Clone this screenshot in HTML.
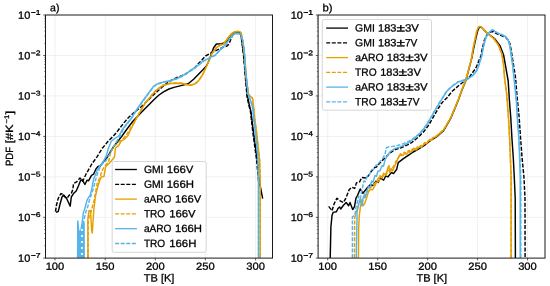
<!DOCTYPE html>
<html><head><meta charset="utf-8"><title>PDF of TB</title>
<style>html,body{margin:0;padding:0;background:#fff;width:550px;height:286px;overflow:hidden;font-family:"Liberation Sans",sans-serif}
text{fill:#000;stroke:#000;stroke-width:0.28px;stroke-linejoin:round}</style>
</head><body>
<svg width="550" height="286" viewBox="0 0 550 286" style="display:block;position:absolute;left:0;top:0;will-change:transform" font-family="Liberation Sans, sans-serif" font-size="10" text-rendering="geometricPrecision">
<rect width="550" height="286" fill="#fff"/>
<line x1="45.5" y1="55.47" x2="272.5" y2="55.47" stroke="#ebebeb" stroke-width="0.7"/>
<line x1="45.5" y1="95.94" x2="272.5" y2="95.94" stroke="#ebebeb" stroke-width="0.7"/>
<line x1="45.5" y1="136.41" x2="272.5" y2="136.41" stroke="#ebebeb" stroke-width="0.7"/>
<line x1="45.5" y1="176.88" x2="272.5" y2="176.88" stroke="#ebebeb" stroke-width="0.7"/>
<line x1="45.5" y1="217.35" x2="272.5" y2="217.35" stroke="#ebebeb" stroke-width="0.7"/>
<line x1="55.00" y1="15.0" x2="55.00" y2="258.1" stroke="#ebebeb" stroke-width="0.7"/>
<line x1="105.20" y1="15.0" x2="105.20" y2="258.1" stroke="#ebebeb" stroke-width="0.7"/>
<line x1="155.30" y1="15.0" x2="155.30" y2="258.1" stroke="#ebebeb" stroke-width="0.7"/>
<line x1="205.40" y1="15.0" x2="205.40" y2="258.1" stroke="#ebebeb" stroke-width="0.7"/>
<line x1="255.60" y1="15.0" x2="255.60" y2="258.1" stroke="#ebebeb" stroke-width="0.7"/>
<line x1="318.1" y1="55.47" x2="545.0" y2="55.47" stroke="#ebebeb" stroke-width="0.7"/>
<line x1="318.1" y1="95.94" x2="545.0" y2="95.94" stroke="#ebebeb" stroke-width="0.7"/>
<line x1="318.1" y1="136.41" x2="545.0" y2="136.41" stroke="#ebebeb" stroke-width="0.7"/>
<line x1="318.1" y1="176.88" x2="545.0" y2="176.88" stroke="#ebebeb" stroke-width="0.7"/>
<line x1="318.1" y1="217.35" x2="545.0" y2="217.35" stroke="#ebebeb" stroke-width="0.7"/>
<line x1="327.70" y1="15.0" x2="327.70" y2="258.1" stroke="#ebebeb" stroke-width="0.7"/>
<line x1="377.70" y1="15.0" x2="377.70" y2="258.1" stroke="#ebebeb" stroke-width="0.7"/>
<line x1="427.70" y1="15.0" x2="427.70" y2="258.1" stroke="#ebebeb" stroke-width="0.7"/>
<line x1="477.60" y1="15.0" x2="477.60" y2="258.1" stroke="#ebebeb" stroke-width="0.7"/>
<line x1="527.50" y1="15.0" x2="527.50" y2="258.1" stroke="#ebebeb" stroke-width="0.7"/>
<defs><clipPath id="cl"><rect x="45.5" y="15.0" width="227.0" height="243.1"/></clipPath><clipPath id="cr"><rect x="318.1" y="15.0" width="226.9" height="243.1"/></clipPath></defs>
<g clip-path="url(#cl)">
<polyline points="56.0,212.2 58.2,211.6 59.8,205.0 62.0,197.0 63.6,195.0 66.4,198.0 70.2,206.2 71.3,197.0 73.5,193.6 76.2,191.0 78.4,186.0 80.5,180.7 82.2,179.6 84.9,184.5 87.0,180.2 88.7,180.7 91.5,175.3 93.6,174.2 95.8,169.3 98.0,166.5 100.3,166.0 103.0,162.3 106.8,158.0 110.0,152.5 113.4,147.0 117.7,141.5 122.0,136.0 127.0,129.0 132.7,121.5 135.0,119.0 142.7,111.0 148.2,105.5 153.6,100.0 159.0,95.0 163.5,91.8 169.0,89.0 174.0,87.4 181.0,85.6 188.2,83.8 193.6,79.3 198.0,74.7 202.7,70.0 206.4,66.0 209.0,60.5 211.0,55.0 213.6,47.7 216.4,44.0 221.8,43.7 225.5,42.3 228.0,39.3 230.0,36.0 232.4,33.5 234.5,32.3 239.0,32.3 241.0,35.0 242.7,46.0 244.0,56.8 245.5,75.0 247.6,96.4 249.0,103.6 251.0,111.8 253.6,133.5 257.3,160.0 259.0,179.6 262.7,198.7" fill="none" stroke="#000" stroke-width="1.45" stroke-linejoin="round"/>
<polyline points="55.5,211.6 56.5,205.0 58.2,198.5 60.9,193.6 62.5,194.2 64.2,196.4 66.9,198.5 69.0,195.3 71.3,193.6 72.9,189.3 73.5,183.5 76.7,181.8 80.0,178.0 82.7,181.3 86.0,174.2 90.4,166.5 91.5,164.5 97.0,156.8 102.5,148.0 107.9,141.5 113.4,136.0 118.0,130.5 123.0,124.0 128.5,117.5 137.3,109.8 141.6,106.5 146.0,102.2 151.5,96.7 157.0,91.8 162.7,86.5 170.0,81.0 177.0,77.5 184.5,74.7 190.0,71.0 195.0,67.5 200.0,62.0 205.5,56.0 211.0,53.0 216.4,50.3 221.8,47.8 226.7,46.1 228.4,44.6 229.7,42.2 231.3,38.2 232.8,34.6 234.3,32.9 235.5,32.4 239.0,32.3 241.0,35.0 242.4,46.0 243.7,56.8 245.2,75.0 247.0,96.4 248.5,103.6 250.5,111.8 253.0,133.5 256.6,160.0 258.4,179.6 259.2,186.0" fill="none" stroke="#000" stroke-width="1.45" stroke-linejoin="round" stroke-dasharray="4.0 1.6"/>
<polyline points="88.0,258.1 88.2,222.0 89.5,214.5 91.0,212.0 92.7,205.5 94.2,200.0 95.8,191.0 97.5,181.8 100.2,177.5 101.8,171.0 104.5,166.5 107.0,163.5 108.5,162.3 110.6,152.5 114.5,146.0 117.2,143.7 119.0,142.0 122.7,139.0 126.0,135.5 129.0,131.0 132.0,125.5 136.2,118.5 140.5,110.5 146.0,101.7 151.5,95.2 155.8,90.3 160.2,87.0 162.7,85.3 170.0,83.2 176.0,83.0 182.7,83.2 187.0,84.5 190.0,85.0 193.5,84.3 196.4,82.7 199.5,79.2 202.7,74.4 206.4,66.5 211.8,53.8 216.4,47.5 220.0,45.2 223.6,43.8 228.2,37.5 231.0,34.1 233.6,32.1 237.0,31.4 240.0,31.6 241.3,33.4 242.9,42.3 244.7,56.8 246.4,78.0 248.4,94.0 250.3,96.5 251.8,97.3 252.7,99.0 253.6,107.3 254.5,117.0 256.7,133.5 259.6,160.0 260.2,181.5 260.2,258.1" fill="none" stroke="#E69F00" stroke-width="1.45" stroke-linejoin="round" stroke-dasharray="4.0 1.6"/>
<polyline points="88.0,258.1 87.8,219.6 88.9,210.9 90.5,210.4 91.6,229.5 92.3,233.0 93.8,209.8 94.9,201.0 95.3,197.0 96.9,190.0 98.0,186.0 99.6,180.7 101.3,177.0 104.0,176.4 104.5,173.0 105.5,167.5 106.3,166.0 111.2,161.2 114.5,156.8 115.5,148.0 118.8,145.4 121.0,141.5 125.4,138.3 128.0,135.5 131.0,129.0 136.2,119.0 140.5,111.0 146.0,102.2 151.5,95.6 155.8,90.7 160.2,87.3 162.7,85.6 170.0,83.5 176.0,83.2 182.7,83.5 187.0,84.8 190.0,85.3 193.5,84.6 196.4,83.0 199.5,79.5 202.7,74.7 206.4,66.8 211.8,54.0 216.4,47.7 220.0,45.4 223.6,44.0 228.2,37.7 231.0,34.3 233.6,32.3 237.0,31.5 240.0,31.7 241.3,33.5 242.9,42.3 244.7,56.8 246.4,78.0 248.4,94.0 250.3,96.5 251.8,97.3 252.7,99.0 253.6,107.3 254.5,117.0 256.7,133.5 259.6,160.0 260.2,181.5 260.2,258.1" fill="none" stroke="#E69F00" stroke-width="1.45" stroke-linejoin="round"/>
<polygon points="77.0,258.1 77.2,221.5 78.2,221.5 79.6,231.0 81.0,229.0 82.3,224.0 83.2,224.0 84.8,222.0 84.9,258.1" fill="#56B4E9"/>
<polyline points="82.3,258.1 82.4,231.0 83.5,221.8 85.6,213.0 87.8,206.5 89.5,200.0 91.5,194.0 93.6,188.0 95.3,180.7 98.0,172.0 100.5,166.5 103.0,163.0 105.7,161.2 110.0,153.5 114.5,144.8 117.0,141.0 120.0,136.5 123.6,128.5 127.0,124.0 130.7,119.5 137.3,109.2 142.7,101.5 148.2,94.0 153.6,86.7 157.0,84.4 161.0,83.0 166.0,81.9 171.8,80.6 178.0,78.4 184.5,75.0 193.6,69.0 203.6,61.1 210.0,57.9 215.3,55.3 220.7,49.6 226.2,44.1 230.0,38.7 232.7,35.3 234.9,34.0 238.2,33.6 240.9,34.7 242.5,39.6 243.6,46.1 244.7,56.3 245.2,67.0 246.4,78.3 248.2,94.8 251.0,102.0 252.7,108.3 255.5,133.8 257.8,156.3 258.5,181.5 258.5,258.1" fill="none" stroke="#56B4E9" stroke-width="1.45" stroke-linejoin="round" stroke-dasharray="4.0 1.6"/>
<polyline points="77.6,258.1 77.8,221.0 79.2,258.1 79.8,232.0 80.6,258.1 81.2,228.0 81.8,225.0 83.5,212.0 84.5,209.8 87.0,200.2 90.4,194.7 92.0,188.0 93.6,179.0 96.9,171.0 99.0,167.0 101.5,164.4 103.5,161.2 106.3,155.7 108.5,148.0 111.2,141.5 113.4,139.4 118.8,136.0 121.5,131.0 123.6,128.0 127.0,123.5 130.7,119.0 137.3,108.7 142.7,101.0 148.2,93.5 153.6,86.2 157.0,84.0 161.0,82.6 166.0,81.5 171.8,80.2 178.0,78.0 184.5,74.6 193.6,68.6 203.6,60.8 210.0,57.6 215.3,55.0 220.7,49.3 226.2,43.8 230.0,38.4 232.7,35.0 234.9,33.7 238.2,33.3 240.9,34.4 242.5,39.3 243.6,45.8 244.7,56.0 245.2,66.8 246.4,78.0 248.2,94.5 251.0,101.8 252.7,108.0 255.5,133.5 257.8,156.0 258.5,181.5 258.5,258.1" fill="none" stroke="#56B4E9" stroke-width="1.45" stroke-linejoin="round"/>
<rect x="81.0" y="229.0" width="2.0" height="1.9" fill="#fff" opacity="0.9"/>
<rect x="81.0" y="235.0" width="2.0" height="1.9" fill="#fff" opacity="0.9"/>
<rect x="81.0" y="241.0" width="2.0" height="1.9" fill="#fff" opacity="0.9"/>
<rect x="81.0" y="247.0" width="2.0" height="1.9" fill="#fff" opacity="0.9"/>
<rect x="81.0" y="253.0" width="2.0" height="1.9" fill="#fff" opacity="0.9"/>
</g>
<g clip-path="url(#cr)">
<polyline points="330.2,258.1 330.9,227.0 332.0,215.6 333.1,212.4 336.4,211.8 338.0,208.5 339.6,206.9 340.7,209.0 343.5,205.3 346.2,202.5 348.6,205.8 350.0,202.5 352.7,209.6 354.4,206.9 356.0,198.2 357.5,195.5 360.2,188.9 362.9,193.3 367.3,187.8 370.5,184.5 372.7,185.6 376.0,181.3 378.2,182.4 380.4,178.0 383.6,180.2 385.8,175.8 388.0,176.9 391.3,172.5 393.5,173.6 396.7,169.3 398.2,162.6 403.4,158.6 409.0,154.8 413.2,152.0 418.8,148.9 424.4,145.5 430.0,141.0 436.4,137.0 443.6,130.6 451.0,117.8 454.5,109.4 458.2,100.4 461.9,90.2 465.6,81.2 469.1,68.4 471.9,57.5 473.2,50.6 476.0,37.6 477.8,30.4 479.2,27.6 480.4,26.9 481.4,27.2 482.8,28.6 487.2,33.4 494.5,38.5 500.0,45.8 503.6,55.0 505.5,65.6 508.2,81.0 509.5,101.6 510.8,118.0 511.9,137.7 513.3,158.0 514.3,177.7 515.2,198.0 515.4,258.1" fill="none" stroke="#000" stroke-width="1.45" stroke-linejoin="round"/>
<polyline points="328.7,206.4 332.0,210.7 334.2,203.6 336.9,198.2 340.2,200.9 343.5,202.5 345.6,198.7 346.7,196.0 349.3,189.5 352.0,187.3 354.7,188.4 356.4,182.9 359.6,181.8 361.8,177.5 366.2,178.0 368.4,175.8 371.6,170.9 374.9,167.5 376.4,167.0 379.6,163.3 385.0,157.8 389.5,153.5 395.0,149.6 400.4,148.0 408.0,144.7 412.0,142.3 416.0,139.0 420.0,135.4 424.3,131.0 428.0,126.0 430.5,122.0 436.0,112.3 441.0,104.0 444.0,100.5 447.0,97.7 451.9,91.6 458.2,86.0 464.5,81.0 470.0,76.2 475.0,69.2 476.4,66.8 479.0,60.5 481.0,55.8 482.2,49.0 484.4,40.0 486.6,35.4 489.0,32.7 491.5,31.6 493.5,31.8 495.0,32.8 497.7,34.2 502.0,35.9 505.6,37.3 508.0,39.9 509.9,43.5 511.2,50.4 513.6,65.6 515.5,77.3 517.0,96.0 519.2,118.0 520.4,136.0 522.1,158.0 524.0,177.7 525.0,198.0 525.1,258.1" fill="none" stroke="#000" stroke-width="1.45" stroke-linejoin="round" stroke-dasharray="4.0 1.6"/>
<polyline points="354.4,258.1 354.7,217.8 357.0,209.0 359.0,204.0 361.0,199.0 362.5,202.0 364.0,198.0 366.5,192.5 369.0,189.0 372.7,185.5 376.0,182.0 378.5,178.0 382.0,176.5 385.5,175.0 387.5,170.0 390.0,171.0 392.5,168.0 394.5,165.0 396.0,161.0 397.5,160.5 398.5,157.0 400.0,154.0 401.0,155.6 402.5,153.6 404.5,152.2 405.5,153.6 407.0,151.8 409.0,150.4 410.0,151.8 412.0,149.6 414.0,148.2 415.0,149.4 417.0,147.4 419.5,145.6 420.5,146.8 422.5,144.6 425.0,142.6 426.0,143.6 427.9,141.2 430.0,139.2 431.0,140.2 432.8,137.8 436.4,136.0 443.6,129.6 451.0,117.0 454.5,108.7 458.2,99.7 461.8,89.7 465.5,80.7 469.0,68.0 471.8,57.0 472.7,50.2 475.4,37.4 477.0,30.0 478.5,27.0 479.6,26.4 480.6,26.4 482.3,27.8 486.8,32.8 493.6,38.3 498.2,44.7 501.8,53.8 503.6,65.4 504.5,77.1 506.4,91.6 507.3,101.4 508.5,118.0 509.6,137.7 510.4,158.0 511.1,177.7 511.1,258.1" fill="none" stroke="#E69F00" stroke-width="1.45" stroke-linejoin="round" stroke-dasharray="4.0 1.6"/>
<polyline points="358.4,258.1 358.7,227.0 359.3,215.6 360.4,206.9 362.0,199.3 363.0,205.8 364.7,203.6 366.7,197.8 368.4,192.0 370.2,189.4 372.5,189.8 374.4,186.6 376.5,182.4 379.3,181.0 380.0,175.4 382.0,178.2 383.5,173.3 386.3,175.4 387.7,168.4 389.0,165.6 389.8,172.6 391.2,168.4 392.6,171.0 394.5,166.5 396.0,163.3 397.6,158.9 399.5,156.0 400.6,153.8 402.0,155.6 403.4,155.0 405.0,152.8 406.3,154.2 407.6,152.9 409.5,151.0 410.5,152.5 413.2,150.0 415.0,148.6 416.0,150.0 418.0,148.0 420.5,146.0 421.5,147.3 423.0,145.2 425.5,143.0 426.5,144.0 427.9,141.7 430.5,139.6 431.3,140.6 432.8,138.2 436.4,136.4 443.6,130.0 451.0,117.3 454.5,109.0 458.2,100.0 461.8,90.0 465.5,81.0 469.0,68.2 471.8,57.3 472.7,50.4 475.4,37.6 477.0,30.2 478.5,27.2 479.6,26.6 480.6,26.6 482.3,28.0 486.8,33.0 493.6,38.5 498.2,44.9 501.8,54.0 503.6,65.6 504.5,77.3 506.4,91.8 507.3,101.6 508.5,118.0 509.6,137.7 510.4,158.0 511.1,177.7 511.1,258.1" fill="none" stroke="#E69F00" stroke-width="1.45" stroke-linejoin="round"/>
<polyline points="356.2,258.1 357.0,220.0 357.0,212.4 358.2,206.9 359.8,199.3 362.0,205.8 363.0,198.2 364.5,194.0 365.5,197.5 366.7,192.2 368.0,188.0 368.8,186.6 370.0,187.8 371.6,181.0 373.0,182.3 375.0,175.4 376.5,176.3 377.9,171.2 380.0,170.8 382.0,165.6 383.5,166.3 385.0,160.0 387.3,155.6 390.5,151.3 395.0,148.5 400.4,146.9 405.8,144.2 410.4,141.5 414.6,138.0 418.8,134.4 423.0,130.0 426.5,125.0 429.0,121.0 434.6,111.2 439.5,102.8 442.8,97.7 447.0,91.0 452.6,86.0 458.2,82.0 463.8,80.4 468.0,79.0 472.9,75.5 476.4,71.3 478.2,67.3 479.5,63.0 481.8,55.8 483.0,49.0 485.2,39.8 487.4,34.8 490.0,31.6 491.6,30.5 492.8,30.1 494.0,30.6 495.2,31.7 497.7,33.2 502.0,34.9 505.4,36.5 507.5,39.1 509.2,43.1 510.3,49.0 511.8,59.5 512.7,65.6 514.5,82.7 516.4,101.6 517.3,118.0 518.8,137.7 519.6,158.0 520.2,177.7 520.2,258.1" fill="none" stroke="#56B4E9" stroke-width="1.45" stroke-linejoin="round"/>
<polyline points="352.4,258.1 352.4,216.7 354.9,215.6 356.0,206.9 357.6,201.5 358.7,196.0 360.4,199.0 361.5,192.0 362.5,188.0 363.9,181.0 365.5,181.5 367.4,175.4 369.5,174.8 371.6,169.8 373.5,169.3 375.8,165.6 378.0,164.5 380.0,161.4 381.8,160.0 385.0,154.5 386.2,148.0 388.4,146.9 392.7,146.4 398.2,145.3 403.6,143.6 409.0,141.2 414.5,137.6 418.8,134.0 423.0,129.6 426.5,124.6 429.0,120.6 434.6,110.8 439.5,102.4 442.8,97.3 447.0,90.6 452.6,85.6 458.2,81.6 463.8,80.0 468.0,78.6 472.9,75.1 476.4,70.9 478.2,66.9 479.5,62.6 481.8,55.4 483.0,48.6 485.2,39.4 487.4,34.5 490.0,31.3 491.6,30.2 492.8,29.9 494.0,30.4 495.2,31.5 497.7,33.0 502.0,34.7 505.4,36.3 507.5,38.9 509.2,42.9 510.3,48.8 511.8,59.3 512.7,65.4 514.7,82.7 516.6,101.6 517.6,118.0 519.1,137.7 520.0,158.0 520.8,177.7 520.8,258.1" fill="none" stroke="#56B4E9" stroke-width="1.45" stroke-linejoin="round" stroke-dasharray="4.0 1.6"/>
</g>
<rect x="45.5" y="15.0" width="227.0" height="243.1" fill="none" stroke="#1a1a1a" stroke-width="1.0"/>
<line x1="55.00" y1="258.1" x2="55.00" y2="260.4" stroke="#1a1a1a" stroke-width="0.7"/>
<line x1="105.20" y1="258.1" x2="105.20" y2="260.4" stroke="#1a1a1a" stroke-width="0.7"/>
<line x1="155.30" y1="258.1" x2="155.30" y2="260.4" stroke="#1a1a1a" stroke-width="0.7"/>
<line x1="205.40" y1="258.1" x2="205.40" y2="260.4" stroke="#1a1a1a" stroke-width="0.7"/>
<line x1="255.60" y1="258.1" x2="255.60" y2="260.4" stroke="#1a1a1a" stroke-width="0.7"/>
<line x1="43.2" y1="15.00" x2="45.5" y2="15.00" stroke="#1a1a1a" stroke-width="0.7"/>
<line x1="44.2" y1="43.29" x2="45.5" y2="43.29" stroke="#1a1a1a" stroke-width="0.5"/>
<line x1="44.2" y1="36.16" x2="45.5" y2="36.16" stroke="#1a1a1a" stroke-width="0.5"/>
<line x1="44.2" y1="31.10" x2="45.5" y2="31.10" stroke="#1a1a1a" stroke-width="0.5"/>
<line x1="44.2" y1="27.18" x2="45.5" y2="27.18" stroke="#1a1a1a" stroke-width="0.5"/>
<line x1="44.2" y1="23.98" x2="45.5" y2="23.98" stroke="#1a1a1a" stroke-width="0.5"/>
<line x1="44.2" y1="21.27" x2="45.5" y2="21.27" stroke="#1a1a1a" stroke-width="0.5"/>
<line x1="44.2" y1="18.92" x2="45.5" y2="18.92" stroke="#1a1a1a" stroke-width="0.5"/>
<line x1="44.2" y1="16.85" x2="45.5" y2="16.85" stroke="#1a1a1a" stroke-width="0.5"/>
<line x1="43.2" y1="55.47" x2="45.5" y2="55.47" stroke="#1a1a1a" stroke-width="0.7"/>
<line x1="44.2" y1="83.76" x2="45.5" y2="83.76" stroke="#1a1a1a" stroke-width="0.5"/>
<line x1="44.2" y1="76.63" x2="45.5" y2="76.63" stroke="#1a1a1a" stroke-width="0.5"/>
<line x1="44.2" y1="71.57" x2="45.5" y2="71.57" stroke="#1a1a1a" stroke-width="0.5"/>
<line x1="44.2" y1="67.65" x2="45.5" y2="67.65" stroke="#1a1a1a" stroke-width="0.5"/>
<line x1="44.2" y1="64.45" x2="45.5" y2="64.45" stroke="#1a1a1a" stroke-width="0.5"/>
<line x1="44.2" y1="61.74" x2="45.5" y2="61.74" stroke="#1a1a1a" stroke-width="0.5"/>
<line x1="44.2" y1="59.39" x2="45.5" y2="59.39" stroke="#1a1a1a" stroke-width="0.5"/>
<line x1="44.2" y1="57.32" x2="45.5" y2="57.32" stroke="#1a1a1a" stroke-width="0.5"/>
<line x1="43.2" y1="95.94" x2="45.5" y2="95.94" stroke="#1a1a1a" stroke-width="0.7"/>
<line x1="44.2" y1="124.23" x2="45.5" y2="124.23" stroke="#1a1a1a" stroke-width="0.5"/>
<line x1="44.2" y1="117.10" x2="45.5" y2="117.10" stroke="#1a1a1a" stroke-width="0.5"/>
<line x1="44.2" y1="112.04" x2="45.5" y2="112.04" stroke="#1a1a1a" stroke-width="0.5"/>
<line x1="44.2" y1="108.12" x2="45.5" y2="108.12" stroke="#1a1a1a" stroke-width="0.5"/>
<line x1="44.2" y1="104.92" x2="45.5" y2="104.92" stroke="#1a1a1a" stroke-width="0.5"/>
<line x1="44.2" y1="102.21" x2="45.5" y2="102.21" stroke="#1a1a1a" stroke-width="0.5"/>
<line x1="44.2" y1="99.86" x2="45.5" y2="99.86" stroke="#1a1a1a" stroke-width="0.5"/>
<line x1="44.2" y1="97.79" x2="45.5" y2="97.79" stroke="#1a1a1a" stroke-width="0.5"/>
<line x1="43.2" y1="136.41" x2="45.5" y2="136.41" stroke="#1a1a1a" stroke-width="0.7"/>
<line x1="44.2" y1="164.70" x2="45.5" y2="164.70" stroke="#1a1a1a" stroke-width="0.5"/>
<line x1="44.2" y1="157.57" x2="45.5" y2="157.57" stroke="#1a1a1a" stroke-width="0.5"/>
<line x1="44.2" y1="152.51" x2="45.5" y2="152.51" stroke="#1a1a1a" stroke-width="0.5"/>
<line x1="44.2" y1="148.59" x2="45.5" y2="148.59" stroke="#1a1a1a" stroke-width="0.5"/>
<line x1="44.2" y1="145.39" x2="45.5" y2="145.39" stroke="#1a1a1a" stroke-width="0.5"/>
<line x1="44.2" y1="142.68" x2="45.5" y2="142.68" stroke="#1a1a1a" stroke-width="0.5"/>
<line x1="44.2" y1="140.33" x2="45.5" y2="140.33" stroke="#1a1a1a" stroke-width="0.5"/>
<line x1="44.2" y1="138.26" x2="45.5" y2="138.26" stroke="#1a1a1a" stroke-width="0.5"/>
<line x1="43.2" y1="176.88" x2="45.5" y2="176.88" stroke="#1a1a1a" stroke-width="0.7"/>
<line x1="44.2" y1="205.17" x2="45.5" y2="205.17" stroke="#1a1a1a" stroke-width="0.5"/>
<line x1="44.2" y1="198.04" x2="45.5" y2="198.04" stroke="#1a1a1a" stroke-width="0.5"/>
<line x1="44.2" y1="192.98" x2="45.5" y2="192.98" stroke="#1a1a1a" stroke-width="0.5"/>
<line x1="44.2" y1="189.06" x2="45.5" y2="189.06" stroke="#1a1a1a" stroke-width="0.5"/>
<line x1="44.2" y1="185.86" x2="45.5" y2="185.86" stroke="#1a1a1a" stroke-width="0.5"/>
<line x1="44.2" y1="183.15" x2="45.5" y2="183.15" stroke="#1a1a1a" stroke-width="0.5"/>
<line x1="44.2" y1="180.80" x2="45.5" y2="180.80" stroke="#1a1a1a" stroke-width="0.5"/>
<line x1="44.2" y1="178.73" x2="45.5" y2="178.73" stroke="#1a1a1a" stroke-width="0.5"/>
<line x1="43.2" y1="217.35" x2="45.5" y2="217.35" stroke="#1a1a1a" stroke-width="0.7"/>
<line x1="44.2" y1="245.64" x2="45.5" y2="245.64" stroke="#1a1a1a" stroke-width="0.5"/>
<line x1="44.2" y1="238.51" x2="45.5" y2="238.51" stroke="#1a1a1a" stroke-width="0.5"/>
<line x1="44.2" y1="233.45" x2="45.5" y2="233.45" stroke="#1a1a1a" stroke-width="0.5"/>
<line x1="44.2" y1="229.53" x2="45.5" y2="229.53" stroke="#1a1a1a" stroke-width="0.5"/>
<line x1="44.2" y1="226.33" x2="45.5" y2="226.33" stroke="#1a1a1a" stroke-width="0.5"/>
<line x1="44.2" y1="223.62" x2="45.5" y2="223.62" stroke="#1a1a1a" stroke-width="0.5"/>
<line x1="44.2" y1="221.27" x2="45.5" y2="221.27" stroke="#1a1a1a" stroke-width="0.5"/>
<line x1="44.2" y1="219.20" x2="45.5" y2="219.20" stroke="#1a1a1a" stroke-width="0.5"/>
<line x1="43.2" y1="258.10" x2="45.5" y2="258.10" stroke="#1a1a1a" stroke-width="0.7"/>
<rect x="318.1" y="15.0" width="226.9" height="243.1" fill="none" stroke="#1a1a1a" stroke-width="1.0"/>
<line x1="327.70" y1="258.1" x2="327.70" y2="260.4" stroke="#1a1a1a" stroke-width="0.7"/>
<line x1="377.70" y1="258.1" x2="377.70" y2="260.4" stroke="#1a1a1a" stroke-width="0.7"/>
<line x1="427.70" y1="258.1" x2="427.70" y2="260.4" stroke="#1a1a1a" stroke-width="0.7"/>
<line x1="477.60" y1="258.1" x2="477.60" y2="260.4" stroke="#1a1a1a" stroke-width="0.7"/>
<line x1="527.50" y1="258.1" x2="527.50" y2="260.4" stroke="#1a1a1a" stroke-width="0.7"/>
<line x1="315.8" y1="15.00" x2="318.1" y2="15.00" stroke="#1a1a1a" stroke-width="0.7"/>
<line x1="316.8" y1="43.29" x2="318.1" y2="43.29" stroke="#1a1a1a" stroke-width="0.5"/>
<line x1="316.8" y1="36.16" x2="318.1" y2="36.16" stroke="#1a1a1a" stroke-width="0.5"/>
<line x1="316.8" y1="31.10" x2="318.1" y2="31.10" stroke="#1a1a1a" stroke-width="0.5"/>
<line x1="316.8" y1="27.18" x2="318.1" y2="27.18" stroke="#1a1a1a" stroke-width="0.5"/>
<line x1="316.8" y1="23.98" x2="318.1" y2="23.98" stroke="#1a1a1a" stroke-width="0.5"/>
<line x1="316.8" y1="21.27" x2="318.1" y2="21.27" stroke="#1a1a1a" stroke-width="0.5"/>
<line x1="316.8" y1="18.92" x2="318.1" y2="18.92" stroke="#1a1a1a" stroke-width="0.5"/>
<line x1="316.8" y1="16.85" x2="318.1" y2="16.85" stroke="#1a1a1a" stroke-width="0.5"/>
<line x1="315.8" y1="55.47" x2="318.1" y2="55.47" stroke="#1a1a1a" stroke-width="0.7"/>
<line x1="316.8" y1="83.76" x2="318.1" y2="83.76" stroke="#1a1a1a" stroke-width="0.5"/>
<line x1="316.8" y1="76.63" x2="318.1" y2="76.63" stroke="#1a1a1a" stroke-width="0.5"/>
<line x1="316.8" y1="71.57" x2="318.1" y2="71.57" stroke="#1a1a1a" stroke-width="0.5"/>
<line x1="316.8" y1="67.65" x2="318.1" y2="67.65" stroke="#1a1a1a" stroke-width="0.5"/>
<line x1="316.8" y1="64.45" x2="318.1" y2="64.45" stroke="#1a1a1a" stroke-width="0.5"/>
<line x1="316.8" y1="61.74" x2="318.1" y2="61.74" stroke="#1a1a1a" stroke-width="0.5"/>
<line x1="316.8" y1="59.39" x2="318.1" y2="59.39" stroke="#1a1a1a" stroke-width="0.5"/>
<line x1="316.8" y1="57.32" x2="318.1" y2="57.32" stroke="#1a1a1a" stroke-width="0.5"/>
<line x1="315.8" y1="95.94" x2="318.1" y2="95.94" stroke="#1a1a1a" stroke-width="0.7"/>
<line x1="316.8" y1="124.23" x2="318.1" y2="124.23" stroke="#1a1a1a" stroke-width="0.5"/>
<line x1="316.8" y1="117.10" x2="318.1" y2="117.10" stroke="#1a1a1a" stroke-width="0.5"/>
<line x1="316.8" y1="112.04" x2="318.1" y2="112.04" stroke="#1a1a1a" stroke-width="0.5"/>
<line x1="316.8" y1="108.12" x2="318.1" y2="108.12" stroke="#1a1a1a" stroke-width="0.5"/>
<line x1="316.8" y1="104.92" x2="318.1" y2="104.92" stroke="#1a1a1a" stroke-width="0.5"/>
<line x1="316.8" y1="102.21" x2="318.1" y2="102.21" stroke="#1a1a1a" stroke-width="0.5"/>
<line x1="316.8" y1="99.86" x2="318.1" y2="99.86" stroke="#1a1a1a" stroke-width="0.5"/>
<line x1="316.8" y1="97.79" x2="318.1" y2="97.79" stroke="#1a1a1a" stroke-width="0.5"/>
<line x1="315.8" y1="136.41" x2="318.1" y2="136.41" stroke="#1a1a1a" stroke-width="0.7"/>
<line x1="316.8" y1="164.70" x2="318.1" y2="164.70" stroke="#1a1a1a" stroke-width="0.5"/>
<line x1="316.8" y1="157.57" x2="318.1" y2="157.57" stroke="#1a1a1a" stroke-width="0.5"/>
<line x1="316.8" y1="152.51" x2="318.1" y2="152.51" stroke="#1a1a1a" stroke-width="0.5"/>
<line x1="316.8" y1="148.59" x2="318.1" y2="148.59" stroke="#1a1a1a" stroke-width="0.5"/>
<line x1="316.8" y1="145.39" x2="318.1" y2="145.39" stroke="#1a1a1a" stroke-width="0.5"/>
<line x1="316.8" y1="142.68" x2="318.1" y2="142.68" stroke="#1a1a1a" stroke-width="0.5"/>
<line x1="316.8" y1="140.33" x2="318.1" y2="140.33" stroke="#1a1a1a" stroke-width="0.5"/>
<line x1="316.8" y1="138.26" x2="318.1" y2="138.26" stroke="#1a1a1a" stroke-width="0.5"/>
<line x1="315.8" y1="176.88" x2="318.1" y2="176.88" stroke="#1a1a1a" stroke-width="0.7"/>
<line x1="316.8" y1="205.17" x2="318.1" y2="205.17" stroke="#1a1a1a" stroke-width="0.5"/>
<line x1="316.8" y1="198.04" x2="318.1" y2="198.04" stroke="#1a1a1a" stroke-width="0.5"/>
<line x1="316.8" y1="192.98" x2="318.1" y2="192.98" stroke="#1a1a1a" stroke-width="0.5"/>
<line x1="316.8" y1="189.06" x2="318.1" y2="189.06" stroke="#1a1a1a" stroke-width="0.5"/>
<line x1="316.8" y1="185.86" x2="318.1" y2="185.86" stroke="#1a1a1a" stroke-width="0.5"/>
<line x1="316.8" y1="183.15" x2="318.1" y2="183.15" stroke="#1a1a1a" stroke-width="0.5"/>
<line x1="316.8" y1="180.80" x2="318.1" y2="180.80" stroke="#1a1a1a" stroke-width="0.5"/>
<line x1="316.8" y1="178.73" x2="318.1" y2="178.73" stroke="#1a1a1a" stroke-width="0.5"/>
<line x1="315.8" y1="217.35" x2="318.1" y2="217.35" stroke="#1a1a1a" stroke-width="0.7"/>
<line x1="316.8" y1="245.64" x2="318.1" y2="245.64" stroke="#1a1a1a" stroke-width="0.5"/>
<line x1="316.8" y1="238.51" x2="318.1" y2="238.51" stroke="#1a1a1a" stroke-width="0.5"/>
<line x1="316.8" y1="233.45" x2="318.1" y2="233.45" stroke="#1a1a1a" stroke-width="0.5"/>
<line x1="316.8" y1="229.53" x2="318.1" y2="229.53" stroke="#1a1a1a" stroke-width="0.5"/>
<line x1="316.8" y1="226.33" x2="318.1" y2="226.33" stroke="#1a1a1a" stroke-width="0.5"/>
<line x1="316.8" y1="223.62" x2="318.1" y2="223.62" stroke="#1a1a1a" stroke-width="0.5"/>
<line x1="316.8" y1="221.27" x2="318.1" y2="221.27" stroke="#1a1a1a" stroke-width="0.5"/>
<line x1="316.8" y1="219.20" x2="318.1" y2="219.20" stroke="#1a1a1a" stroke-width="0.5"/>
<line x1="315.8" y1="258.10" x2="318.1" y2="258.10" stroke="#1a1a1a" stroke-width="0.7"/>
<text transform="rotate(0.03 18.1 18.7)" x="18.1" y="18.7" textLength="12.2" lengthAdjust="spacingAndGlyphs" font-size="10.5">10</text><text transform="rotate(0.03 30.7 14.7)" x="30.7" y="14.7" textLength="9.8" lengthAdjust="spacingAndGlyphs" font-size="6.8">−1</text>
<text transform="rotate(0.03 18.1 59.2)" x="18.1" y="59.2" textLength="12.2" lengthAdjust="spacingAndGlyphs" font-size="10.5">10</text><text transform="rotate(0.03 30.7 55.2)" x="30.7" y="55.2" textLength="9.8" lengthAdjust="spacingAndGlyphs" font-size="6.8">−2</text>
<text transform="rotate(0.03 18.1 99.6)" x="18.1" y="99.6" textLength="12.2" lengthAdjust="spacingAndGlyphs" font-size="10.5">10</text><text transform="rotate(0.03 30.7 95.6)" x="30.7" y="95.6" textLength="9.8" lengthAdjust="spacingAndGlyphs" font-size="6.8">−3</text>
<text transform="rotate(0.03 18.1 140.1)" x="18.1" y="140.1" textLength="12.2" lengthAdjust="spacingAndGlyphs" font-size="10.5">10</text><text transform="rotate(0.03 30.7 136.1)" x="30.7" y="136.1" textLength="9.8" lengthAdjust="spacingAndGlyphs" font-size="6.8">−4</text>
<text transform="rotate(0.03 18.1 180.6)" x="18.1" y="180.6" textLength="12.2" lengthAdjust="spacingAndGlyphs" font-size="10.5">10</text><text transform="rotate(0.03 30.7 176.6)" x="30.7" y="176.6" textLength="9.8" lengthAdjust="spacingAndGlyphs" font-size="6.8">−5</text>
<text transform="rotate(0.03 18.1 221.0)" x="18.1" y="221.0" textLength="12.2" lengthAdjust="spacingAndGlyphs" font-size="10.5">10</text><text transform="rotate(0.03 30.7 217.0)" x="30.7" y="217.0" textLength="9.8" lengthAdjust="spacingAndGlyphs" font-size="6.8">−6</text>
<text transform="rotate(0.03 18.1 261.8)" x="18.1" y="261.8" textLength="12.2" lengthAdjust="spacingAndGlyphs" font-size="10.5">10</text><text transform="rotate(0.03 30.7 257.8)" x="30.7" y="257.8" textLength="9.8" lengthAdjust="spacingAndGlyphs" font-size="6.8">−7</text>
<text transform="rotate(0.03 290.7 18.7)" x="290.7" y="18.7" textLength="12.2" lengthAdjust="spacingAndGlyphs" font-size="10.5">10</text><text transform="rotate(0.03 303.3 14.7)" x="303.3" y="14.7" textLength="9.8" lengthAdjust="spacingAndGlyphs" font-size="6.8">−1</text>
<text transform="rotate(0.03 290.7 59.2)" x="290.7" y="59.2" textLength="12.2" lengthAdjust="spacingAndGlyphs" font-size="10.5">10</text><text transform="rotate(0.03 303.3 55.2)" x="303.3" y="55.2" textLength="9.8" lengthAdjust="spacingAndGlyphs" font-size="6.8">−2</text>
<text transform="rotate(0.03 290.7 99.6)" x="290.7" y="99.6" textLength="12.2" lengthAdjust="spacingAndGlyphs" font-size="10.5">10</text><text transform="rotate(0.03 303.3 95.6)" x="303.3" y="95.6" textLength="9.8" lengthAdjust="spacingAndGlyphs" font-size="6.8">−3</text>
<text transform="rotate(0.03 290.7 140.1)" x="290.7" y="140.1" textLength="12.2" lengthAdjust="spacingAndGlyphs" font-size="10.5">10</text><text transform="rotate(0.03 303.3 136.1)" x="303.3" y="136.1" textLength="9.8" lengthAdjust="spacingAndGlyphs" font-size="6.8">−4</text>
<text transform="rotate(0.03 290.7 180.6)" x="290.7" y="180.6" textLength="12.2" lengthAdjust="spacingAndGlyphs" font-size="10.5">10</text><text transform="rotate(0.03 303.3 176.6)" x="303.3" y="176.6" textLength="9.8" lengthAdjust="spacingAndGlyphs" font-size="6.8">−5</text>
<text transform="rotate(0.03 290.7 221.0)" x="290.7" y="221.0" textLength="12.2" lengthAdjust="spacingAndGlyphs" font-size="10.5">10</text><text transform="rotate(0.03 303.3 217.0)" x="303.3" y="217.0" textLength="9.8" lengthAdjust="spacingAndGlyphs" font-size="6.8">−6</text>
<text transform="rotate(0.03 290.7 261.8)" x="290.7" y="261.8" textLength="12.2" lengthAdjust="spacingAndGlyphs" font-size="10.5">10</text><text transform="rotate(0.03 303.3 257.8)" x="303.3" y="257.8" textLength="9.8" lengthAdjust="spacingAndGlyphs" font-size="6.8">−7</text>
<text transform="rotate(0.03 55.0 269.7)" x="55.0" y="269.7" text-anchor="middle" textLength="18.7" lengthAdjust="spacingAndGlyphs" font-size="10.3">100</text>
<text transform="rotate(0.03 105.2 269.7)" x="105.2" y="269.7" text-anchor="middle" textLength="18.7" lengthAdjust="spacingAndGlyphs" font-size="10.3">150</text>
<text transform="rotate(0.03 155.3 269.7)" x="155.3" y="269.7" text-anchor="middle" textLength="18.7" lengthAdjust="spacingAndGlyphs" font-size="10.3">200</text>
<text transform="rotate(0.03 205.4 269.7)" x="205.4" y="269.7" text-anchor="middle" textLength="18.7" lengthAdjust="spacingAndGlyphs" font-size="10.3">250</text>
<text transform="rotate(0.03 255.6 269.7)" x="255.6" y="269.7" text-anchor="middle" textLength="18.7" lengthAdjust="spacingAndGlyphs" font-size="10.3">300</text>
<text transform="rotate(0.03 327.7 269.7)" x="327.7" y="269.7" text-anchor="middle" textLength="18.7" lengthAdjust="spacingAndGlyphs" font-size="10.3">100</text>
<text transform="rotate(0.03 377.7 269.7)" x="377.7" y="269.7" text-anchor="middle" textLength="18.7" lengthAdjust="spacingAndGlyphs" font-size="10.3">150</text>
<text transform="rotate(0.03 427.7 269.7)" x="427.7" y="269.7" text-anchor="middle" textLength="18.7" lengthAdjust="spacingAndGlyphs" font-size="10.3">200</text>
<text transform="rotate(0.03 477.6 269.7)" x="477.6" y="269.7" text-anchor="middle" textLength="18.7" lengthAdjust="spacingAndGlyphs" font-size="10.3">250</text>
<text transform="rotate(0.03 527.5 269.7)" x="527.5" y="269.7" text-anchor="middle" textLength="18.7" lengthAdjust="spacingAndGlyphs" font-size="10.3">300</text>
<text transform="rotate(0.03 159.1 281.6)" x="159.1" y="281.6" text-anchor="middle" textLength="30.6" lengthAdjust="spacingAndGlyphs" font-size="10.5">TB [K]</text>
<text transform="rotate(0.03 431.8 281.6)" x="431.8" y="281.6" text-anchor="middle" textLength="30.6" lengthAdjust="spacingAndGlyphs" font-size="10.5">TB [K]</text>
<g transform="translate(13.0,166.3) rotate(-90)"><text x="0.2" y="0" textLength="19.2" lengthAdjust="spacingAndGlyphs" font-size="10.5">PDF</text><text x="22.7" y="0" textLength="19.2" lengthAdjust="spacingAndGlyphs" font-size="10.5">[#K</text><text x="42.9" y="-3.9" textLength="8.8" lengthAdjust="spacingAndGlyphs" font-size="6.8">−1</text><text x="51.9" y="0" textLength="3.7" lengthAdjust="spacingAndGlyphs" font-size="10.5">]</text></g>
<text transform="rotate(0.03 50.1 11.2)" x="50.1" y="11.2" textLength="9.4" lengthAdjust="spacingAndGlyphs" font-size="10.5">a)</text>
<text transform="rotate(0.03 322.6 11.2)" x="322.6" y="11.2" textLength="10.0" lengthAdjust="spacingAndGlyphs" font-size="10.5">b)</text>
<rect x="112.2" y="161.5" width="94.0" height="90.8" rx="2" ry="2" fill="#fff" fill-opacity="0.88" stroke="#ccc" stroke-width="0.8"/>
<line x1="115.1" y1="169.5" x2="136.9" y2="169.5" stroke="#000" stroke-width="1.3"/>
<text transform="rotate(0.03 143.9 172.9)" x="143.9" y="172.9" textLength="19.6" lengthAdjust="spacingAndGlyphs" font-size="10.5">GMI</text>
<text transform="rotate(0.03 166.8 172.9)" x="166.8" y="172.9" textLength="26.6" lengthAdjust="spacingAndGlyphs" font-size="10.5">166V</text>
<line x1="115.1" y1="184.3" x2="136.9" y2="184.3" stroke="#000" stroke-width="1.3" stroke-dasharray="4.0 1.6"/>
<text transform="rotate(0.03 143.9 187.7)" x="143.9" y="187.7" textLength="19.6" lengthAdjust="spacingAndGlyphs" font-size="10.5">GMI</text>
<text transform="rotate(0.03 166.8 187.7)" x="166.8" y="187.7" textLength="27.2" lengthAdjust="spacingAndGlyphs" font-size="10.5">166H</text>
<line x1="115.1" y1="199.1" x2="136.9" y2="199.1" stroke="#E69F00" stroke-width="1.3"/>
<text transform="rotate(0.03 143.9 202.5)" x="143.9" y="202.5" textLength="27.6" lengthAdjust="spacingAndGlyphs" font-size="10.5">aARO</text>
<text transform="rotate(0.03 174.9 202.5)" x="174.9" y="202.5" textLength="26.3" lengthAdjust="spacingAndGlyphs" font-size="10.5">166V</text>
<line x1="115.1" y1="213.9" x2="136.9" y2="213.9" stroke="#E69F00" stroke-width="1.3" stroke-dasharray="4.0 1.6"/>
<text transform="rotate(0.03 143.9 217.3)" x="143.9" y="217.3" textLength="21.3" lengthAdjust="spacingAndGlyphs" font-size="10.5">TRO</text>
<text transform="rotate(0.03 169.2 217.3)" x="169.2" y="217.3" textLength="26.5" lengthAdjust="spacingAndGlyphs" font-size="10.5">166V</text>
<line x1="115.1" y1="228.7" x2="136.9" y2="228.7" stroke="#56B4E9" stroke-width="1.3"/>
<text transform="rotate(0.03 143.9 232.1)" x="143.9" y="232.1" textLength="27.6" lengthAdjust="spacingAndGlyphs" font-size="10.5">aARO</text>
<text transform="rotate(0.03 174.9 232.1)" x="174.9" y="232.1" textLength="27.1" lengthAdjust="spacingAndGlyphs" font-size="10.5">166H</text>
<line x1="115.1" y1="243.5" x2="136.9" y2="243.5" stroke="#56B4E9" stroke-width="1.3" stroke-dasharray="4.0 1.6"/>
<text transform="rotate(0.03 143.9 246.9)" x="143.9" y="246.9" textLength="21.3" lengthAdjust="spacingAndGlyphs" font-size="10.5">TRO</text>
<text transform="rotate(0.03 169.2 246.9)" x="169.2" y="246.9" textLength="27.2" lengthAdjust="spacingAndGlyphs" font-size="10.5">166H</text>
<rect x="322.3" y="19.5" width="109.2" height="90.7" rx="2" ry="2" fill="#fff" fill-opacity="0.88" stroke="#ccc" stroke-width="0.8"/>
<line x1="326.2" y1="28.1" x2="348.0" y2="28.1" stroke="#000" stroke-width="1.3"/>
<text transform="rotate(0.03 355.1 31.5)" x="355.1" y="31.5" textLength="19.7" lengthAdjust="spacingAndGlyphs" font-size="10.5">GMI</text>
<text transform="rotate(0.03 378.0 31.5)" x="378.0" y="31.5" textLength="18.4" lengthAdjust="spacingAndGlyphs" font-size="10.5">183</text>
<text transform="rotate(0.03 396.4 31.5)" x="396.4" y="31.5" textLength="8.5" lengthAdjust="spacingAndGlyphs" font-size="10.5">±</text>
<text transform="rotate(0.03 404.9 31.5)" x="404.9" y="31.5" textLength="14.0" lengthAdjust="spacingAndGlyphs" font-size="10.5">3V</text>
<line x1="326.2" y1="42.9" x2="348.0" y2="42.9" stroke="#000" stroke-width="1.3" stroke-dasharray="4.0 1.6"/>
<text transform="rotate(0.03 355.1 46.3)" x="355.1" y="46.3" textLength="19.7" lengthAdjust="spacingAndGlyphs" font-size="10.5">GMI</text>
<text transform="rotate(0.03 378.0 46.3)" x="378.0" y="46.3" textLength="18.4" lengthAdjust="spacingAndGlyphs" font-size="10.5">183</text>
<text transform="rotate(0.03 396.4 46.3)" x="396.4" y="46.3" textLength="8.5" lengthAdjust="spacingAndGlyphs" font-size="10.5">±</text>
<text transform="rotate(0.03 404.9 46.3)" x="404.9" y="46.3" textLength="12.5" lengthAdjust="spacingAndGlyphs" font-size="10.5">7V</text>
<line x1="326.2" y1="57.6" x2="348.0" y2="57.6" stroke="#E69F00" stroke-width="1.3"/>
<text transform="rotate(0.03 355.3 61.0)" x="355.3" y="61.0" textLength="28.3" lengthAdjust="spacingAndGlyphs" font-size="10.5">aARO</text>
<text transform="rotate(0.03 386.8 61.0)" x="386.8" y="61.0" textLength="18.4" lengthAdjust="spacingAndGlyphs" font-size="10.5">183</text>
<text transform="rotate(0.03 405.2 61.0)" x="405.2" y="61.0" textLength="8.5" lengthAdjust="spacingAndGlyphs" font-size="10.5">±</text>
<text transform="rotate(0.03 413.7 61.0)" x="413.7" y="61.0" textLength="14.0" lengthAdjust="spacingAndGlyphs" font-size="10.5">3V</text>
<line x1="326.2" y1="72.4" x2="348.0" y2="72.4" stroke="#E69F00" stroke-width="1.3" stroke-dasharray="4.0 1.6"/>
<text transform="rotate(0.03 355.1 75.8)" x="355.1" y="75.8" textLength="21.6" lengthAdjust="spacingAndGlyphs" font-size="10.5">TRO</text>
<text transform="rotate(0.03 380.2 75.8)" x="380.2" y="75.8" textLength="18.4" lengthAdjust="spacingAndGlyphs" font-size="10.5">183</text>
<text transform="rotate(0.03 398.6 75.8)" x="398.6" y="75.8" textLength="8.5" lengthAdjust="spacingAndGlyphs" font-size="10.5">±</text>
<text transform="rotate(0.03 407.1 75.8)" x="407.1" y="75.8" textLength="14.0" lengthAdjust="spacingAndGlyphs" font-size="10.5">3V</text>
<line x1="326.2" y1="87.1" x2="348.0" y2="87.1" stroke="#56B4E9" stroke-width="1.3"/>
<text transform="rotate(0.03 355.3 90.5)" x="355.3" y="90.5" textLength="28.3" lengthAdjust="spacingAndGlyphs" font-size="10.5">aARO</text>
<text transform="rotate(0.03 386.8 90.5)" x="386.8" y="90.5" textLength="18.4" lengthAdjust="spacingAndGlyphs" font-size="10.5">183</text>
<text transform="rotate(0.03 405.2 90.5)" x="405.2" y="90.5" textLength="8.5" lengthAdjust="spacingAndGlyphs" font-size="10.5">±</text>
<text transform="rotate(0.03 413.7 90.5)" x="413.7" y="90.5" textLength="14.0" lengthAdjust="spacingAndGlyphs" font-size="10.5">3V</text>
<line x1="326.2" y1="101.9" x2="348.0" y2="101.9" stroke="#56B4E9" stroke-width="1.3" stroke-dasharray="4.0 1.6"/>
<text transform="rotate(0.03 355.1 105.3)" x="355.1" y="105.3" textLength="21.6" lengthAdjust="spacingAndGlyphs" font-size="10.5">TRO</text>
<text transform="rotate(0.03 380.2 105.3)" x="380.2" y="105.3" textLength="18.4" lengthAdjust="spacingAndGlyphs" font-size="10.5">183</text>
<text transform="rotate(0.03 398.6 105.3)" x="398.6" y="105.3" textLength="8.5" lengthAdjust="spacingAndGlyphs" font-size="10.5">±</text>
<text transform="rotate(0.03 407.1 105.3)" x="407.1" y="105.3" textLength="12.5" lengthAdjust="spacingAndGlyphs" font-size="10.5">7V</text>
</svg>
</body></html>
